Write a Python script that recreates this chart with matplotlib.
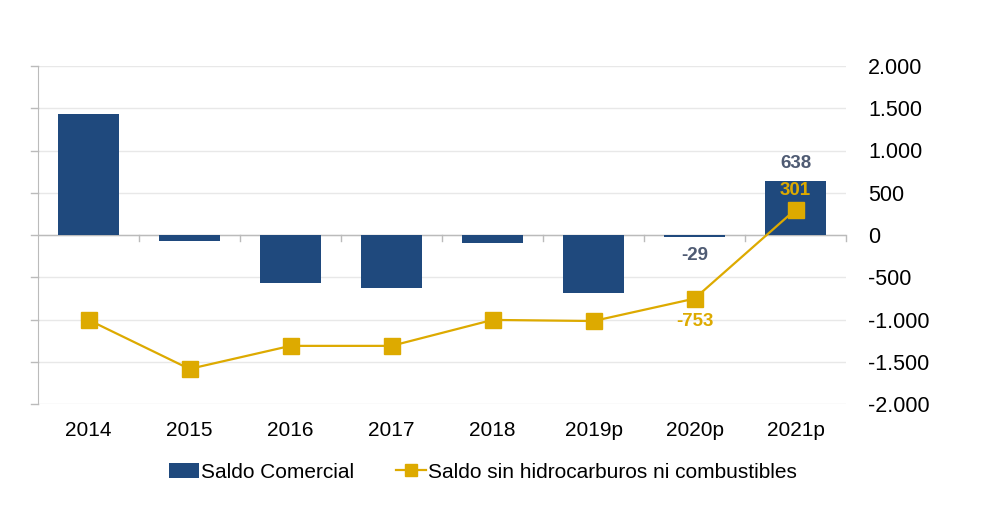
import numpy as np
import matplotlib.pyplot as plt

plt.rcParams['font.family'] = ['Liberation Sans', 'DejaVu Sans']

years = ['2014', '2015', '2016', '2017', '2018', '2019p', '2020p', '2021p']
saldo_comercial = [1430, -70, -568, -625, -95, -685, -29, 638]
saldo_sin_hidro = [-1005, -1585, -1312, -1312, -1005, -1018, -753, 301]
yticks = [2000, 1500, 1000, 500, 0, -500, -1000, -1500, -2000]
ytick_labels = ['2.000', '1.500', '1.000', '500', '0', '-500', '-1.000', '-1.500', '-2.000']

bar_color = '#1F497D'
line_color = '#DDAA00'
label_grey = '#4F5B73'

fig = plt.figure(figsize=(9.92, 5.28), dpi=100)
ax = fig.add_axes([38/992, 1-404/528, (846-38)/992, (404-66)/528])

x = np.arange(len(years))
bars = ax.bar(x, saldo_comercial, width=0.6, color=bar_color, label='Saldo Comercial', zorder=3)
line, = ax.plot(x, saldo_sin_hidro, color=line_color, lw=1.6, marker='s', ms=11,
                label='Saldo sin hidrocarburos ni combustibles', zorder=4)

ax.set_xlim(-0.5, len(years) - 0.5)
ax.set_ylim(-2000, 2000)
ax.set_yticks(yticks)
ax.set_yticklabels(ytick_labels)
ax.yaxis.tick_right()
ax.tick_params(axis='y', length=0, pad=16, labelsize=15.5)
ax.set_xticks(x)
ax.set_xticklabels(years)
ax.tick_params(axis='x', length=0, pad=12, labelsize=15)

for s in ['top', 'right', 'bottom']:
    ax.spines[s].set_visible(False)
ax.spines['left'].set_color('#BBBBBB')
ax.grid(axis='y', color='#E8E8E8', lw=1, zorder=0)
ax.axhline(0, color='#BBBBBB', lw=1, zorder=2)

# left side tick marks
for yv in yticks:
    ax.plot([-0.57, -0.5], [yv, yv], color='#BBBBBB', lw=1, clip_on=False)
# category boundary ticks on zero line
for b in np.arange(0.5, len(years) - 0.5, 1.0):
    ax.plot([b, b], [0, -70], color='#BBBBBB', lw=1, zorder=2)
ax.plot([len(years) - 0.5] * 2, [0, -70], color='#BBBBBB', lw=1, clip_on=False)

ax.text(7, 638 + 110, '638', ha='center', va='bottom', fontsize=13.5, fontweight='bold', color=label_grey)
ax.text(6, -29 - 110, '-29', ha='center', va='top', fontsize=13.5, fontweight='bold', color=label_grey)
ax.text(7, 301 + 130, '301', ha='center', va='bottom', fontsize=13.5, fontweight='bold', color=line_color, zorder=5)
ax.text(6, -753 - 170, '-753', ha='center', va='top', fontsize=13.5, fontweight='bold', color=line_color)

fig.legend([bars, line], ['Saldo Comercial', 'Saldo sin hidrocarburos ni combustibles'],
           loc='center', bbox_to_anchor=(0.487, 1-472/528), ncol=2, frameon=False,
           fontsize=15, handlelength=1.45, handletextpad=0.1, columnspacing=2.0, markerscale=0.75)

fig.savefig('out.png', dpi=100)
